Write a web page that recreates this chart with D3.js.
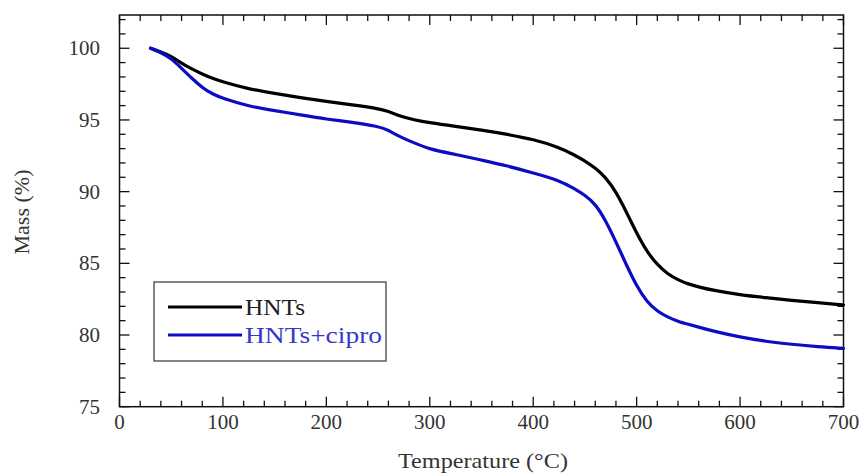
<!DOCTYPE html>
<html>
<head>
<meta charset="utf-8">
<script src="https://cdn.jsdelivr.net/npm/d3@7"></script>
<style>
  body { margin: 0; background: #fff; }
  text { font-family: "Liberation Serif", "Times New Roman", serif; }
</style>
</head>
<body>
<div id="chart"></div>
<script>
// temperature (°C) sample points
var temperature = [30,40,50,60,70,80,90,100,125,150,175,200,225,250,260,270,285,300,325,350,375,400,425,440,450,460,470,480,490,500,510,520,530,540,550,560,575,600,625,650,675,700];

var massHNTs = [100.0,99.75,99.45,98.95,98.55,98.2,97.9,97.65,97.15,96.85,96.55,96.3,96.05,95.8,95.6,95.3,95.0,94.8,94.55,94.3,94.0,93.65,93.1,92.55,92.15,91.65,91.0,90.0,88.6,87.1,85.8,84.9,84.25,83.85,83.55,83.35,83.1,82.8,82.6,82.42,82.25,82.1];

var massCipro = [100.0,99.7,99.3,98.6,97.9,97.25,96.8,96.5,95.95,95.65,95.35,95.05,94.85,94.55,94.3,93.85,93.4,92.95,92.6,92.2,91.8,91.3,90.8,90.2,89.75,89.15,88.0,86.5,84.9,83.4,82.3,81.65,81.25,80.95,80.75,80.55,80.25,79.85,79.55,79.35,79.18,79.07];

var seriesNames = ["HNTs", "HNTs+cipro"];
var xTicks = [0,100,200,300,400,500,600,700];
var yTicks = [75,80,85,90,95,100];

var width = 865, height = 474;
var marginLeft = 119.5, marginTop = 15, plotRight = 843.5, plotBottom = 406.7;

var lineColors = ["#000000", "#0c0cc4"];
var textColors = ["#222222", "#3838c8"];
var legendTextWidth = [60, 137];

var x = d3.scaleLinear().domain([0, 700]).range([marginLeft, plotRight]);
var y = d3.scaleLinear().domain([75, 102.32]).range([plotBottom, marginTop]);

var svg = d3.select("#chart").append("svg")
    .attr("width", width)
    .attr("height", height);

// minor ticks (inward, all four sides)
var xMinor = d3.range(0, 701, 20).filter(function(d){ return d % 100 != 0 });
var yMinor = d3.range(75, 103, 1).filter(function(d){ return d % 5 != 0 });

var majorLen = 10, minorLen = 6;

var tickG = svg.append("g").attr("stroke", "#111").attr("stroke-width", 1.3);

function xTickMarks(vals, len) {
    vals.forEach(function(v){
        tickG.append("line").attr("x1", x(v)).attr("x2", x(v))
            .attr("y1", plotBottom).attr("y2", plotBottom - len);
        tickG.append("line").attr("x1", x(v)).attr("x2", x(v))
            .attr("y1", marginTop).attr("y2", marginTop + len);
    });
}
function yTickMarks(vals, len) {
    vals.forEach(function(v){
        tickG.append("line").attr("y1", y(v)).attr("y2", y(v))
            .attr("x1", marginLeft).attr("x2", marginLeft + len);
        tickG.append("line").attr("y1", y(v)).attr("y2", y(v))
            .attr("x1", plotRight).attr("x2", plotRight - len);
    });
}
xTickMarks(xTicks, majorLen);
xTickMarks(xMinor, minorLen);
yTickMarks(yTicks, majorLen);
yTickMarks(yMinor, minorLen);

// frame
svg.append("rect")
    .attr("x", marginLeft).attr("y", marginTop)
    .attr("width", plotRight - marginLeft)
    .attr("height", plotBottom - marginTop)
    .attr("fill", "none")
    .attr("stroke", "#111")
    .attr("stroke-width", 1.5);

// tick labels
svg.selectAll(".xlab").data(xTicks).enter().append("text")
    .attr("x", function(d){ return x(d) })
    .attr("y", plotBottom + 22)
    .attr("text-anchor", "middle")
    .attr("font-size", 21)
    .attr("fill", "#333")
    .text(function(d){ return d });

svg.selectAll(".ylab").data(yTicks).enter().append("text")
    .attr("x", 100)
    .attr("y", function(d){ return y(d) + 7 })
    .attr("text-anchor", "end")
    .attr("font-size", 21)
    .attr("fill", "#333")
    .text(function(d){ return d });

// axis titles
svg.append("text")
    .attr("x", 483)
    .attr("y", 468)
    .attr("text-anchor", "middle")
    .attr("font-size", 22)
    .attr("textLength", 170)
    .attr("lengthAdjust", "spacingAndGlyphs")
    .attr("fill", "#333")
    .text("Temperature (°C)");

svg.append("text")
    .attr("transform", "translate(29,212) rotate(-90)")
    .attr("text-anchor", "middle")
    .attr("font-size", 22)
    .attr("fill", "#333")
    .text("Mass (%)");

// curves
var series = [massHNTs, massCipro];
var line = d3.line()
    .x(function(d){ return x(d[0]) })
    .y(function(d){ return y(d[1]) })
    .curve(d3.curveBasis);

series.forEach(function(vals, i){
    svg.append("path")
        .datum(d3.zip(temperature, vals))
        .attr("fill", "none")
        .attr("stroke", lineColors[i])
        .attr("stroke-width", 3.2)
        .attr("stroke-linejoin", "round")
        .attr("stroke-linecap", "round")
        .attr("d", line);
});

// legend
var legend = svg.append("g");
legend.append("rect")
    .attr("x", 154).attr("y", 282)
    .attr("width", 232).attr("height", 79)
    .attr("fill", "#fff")
    .attr("stroke", "#444")
    .attr("stroke-width", 1.3);

seriesNames.forEach(function(name, i){
    var ly = 307 + i * 28;
    legend.append("line")
        .attr("x1", 168).attr("x2", 242)
        .attr("y1", ly).attr("y2", ly)
        .attr("stroke", lineColors[i])
        .attr("stroke-width", 3.2);
    legend.append("text")
        .attr("x", 245)
        .attr("y", ly + 8)
        .attr("font-size", 23)
        .attr("textLength", legendTextWidth[i])
        .attr("lengthAdjust", "spacingAndGlyphs")
        .attr("fill", textColors[i])
        .text(name);
});
</script>
</body>
</html>
